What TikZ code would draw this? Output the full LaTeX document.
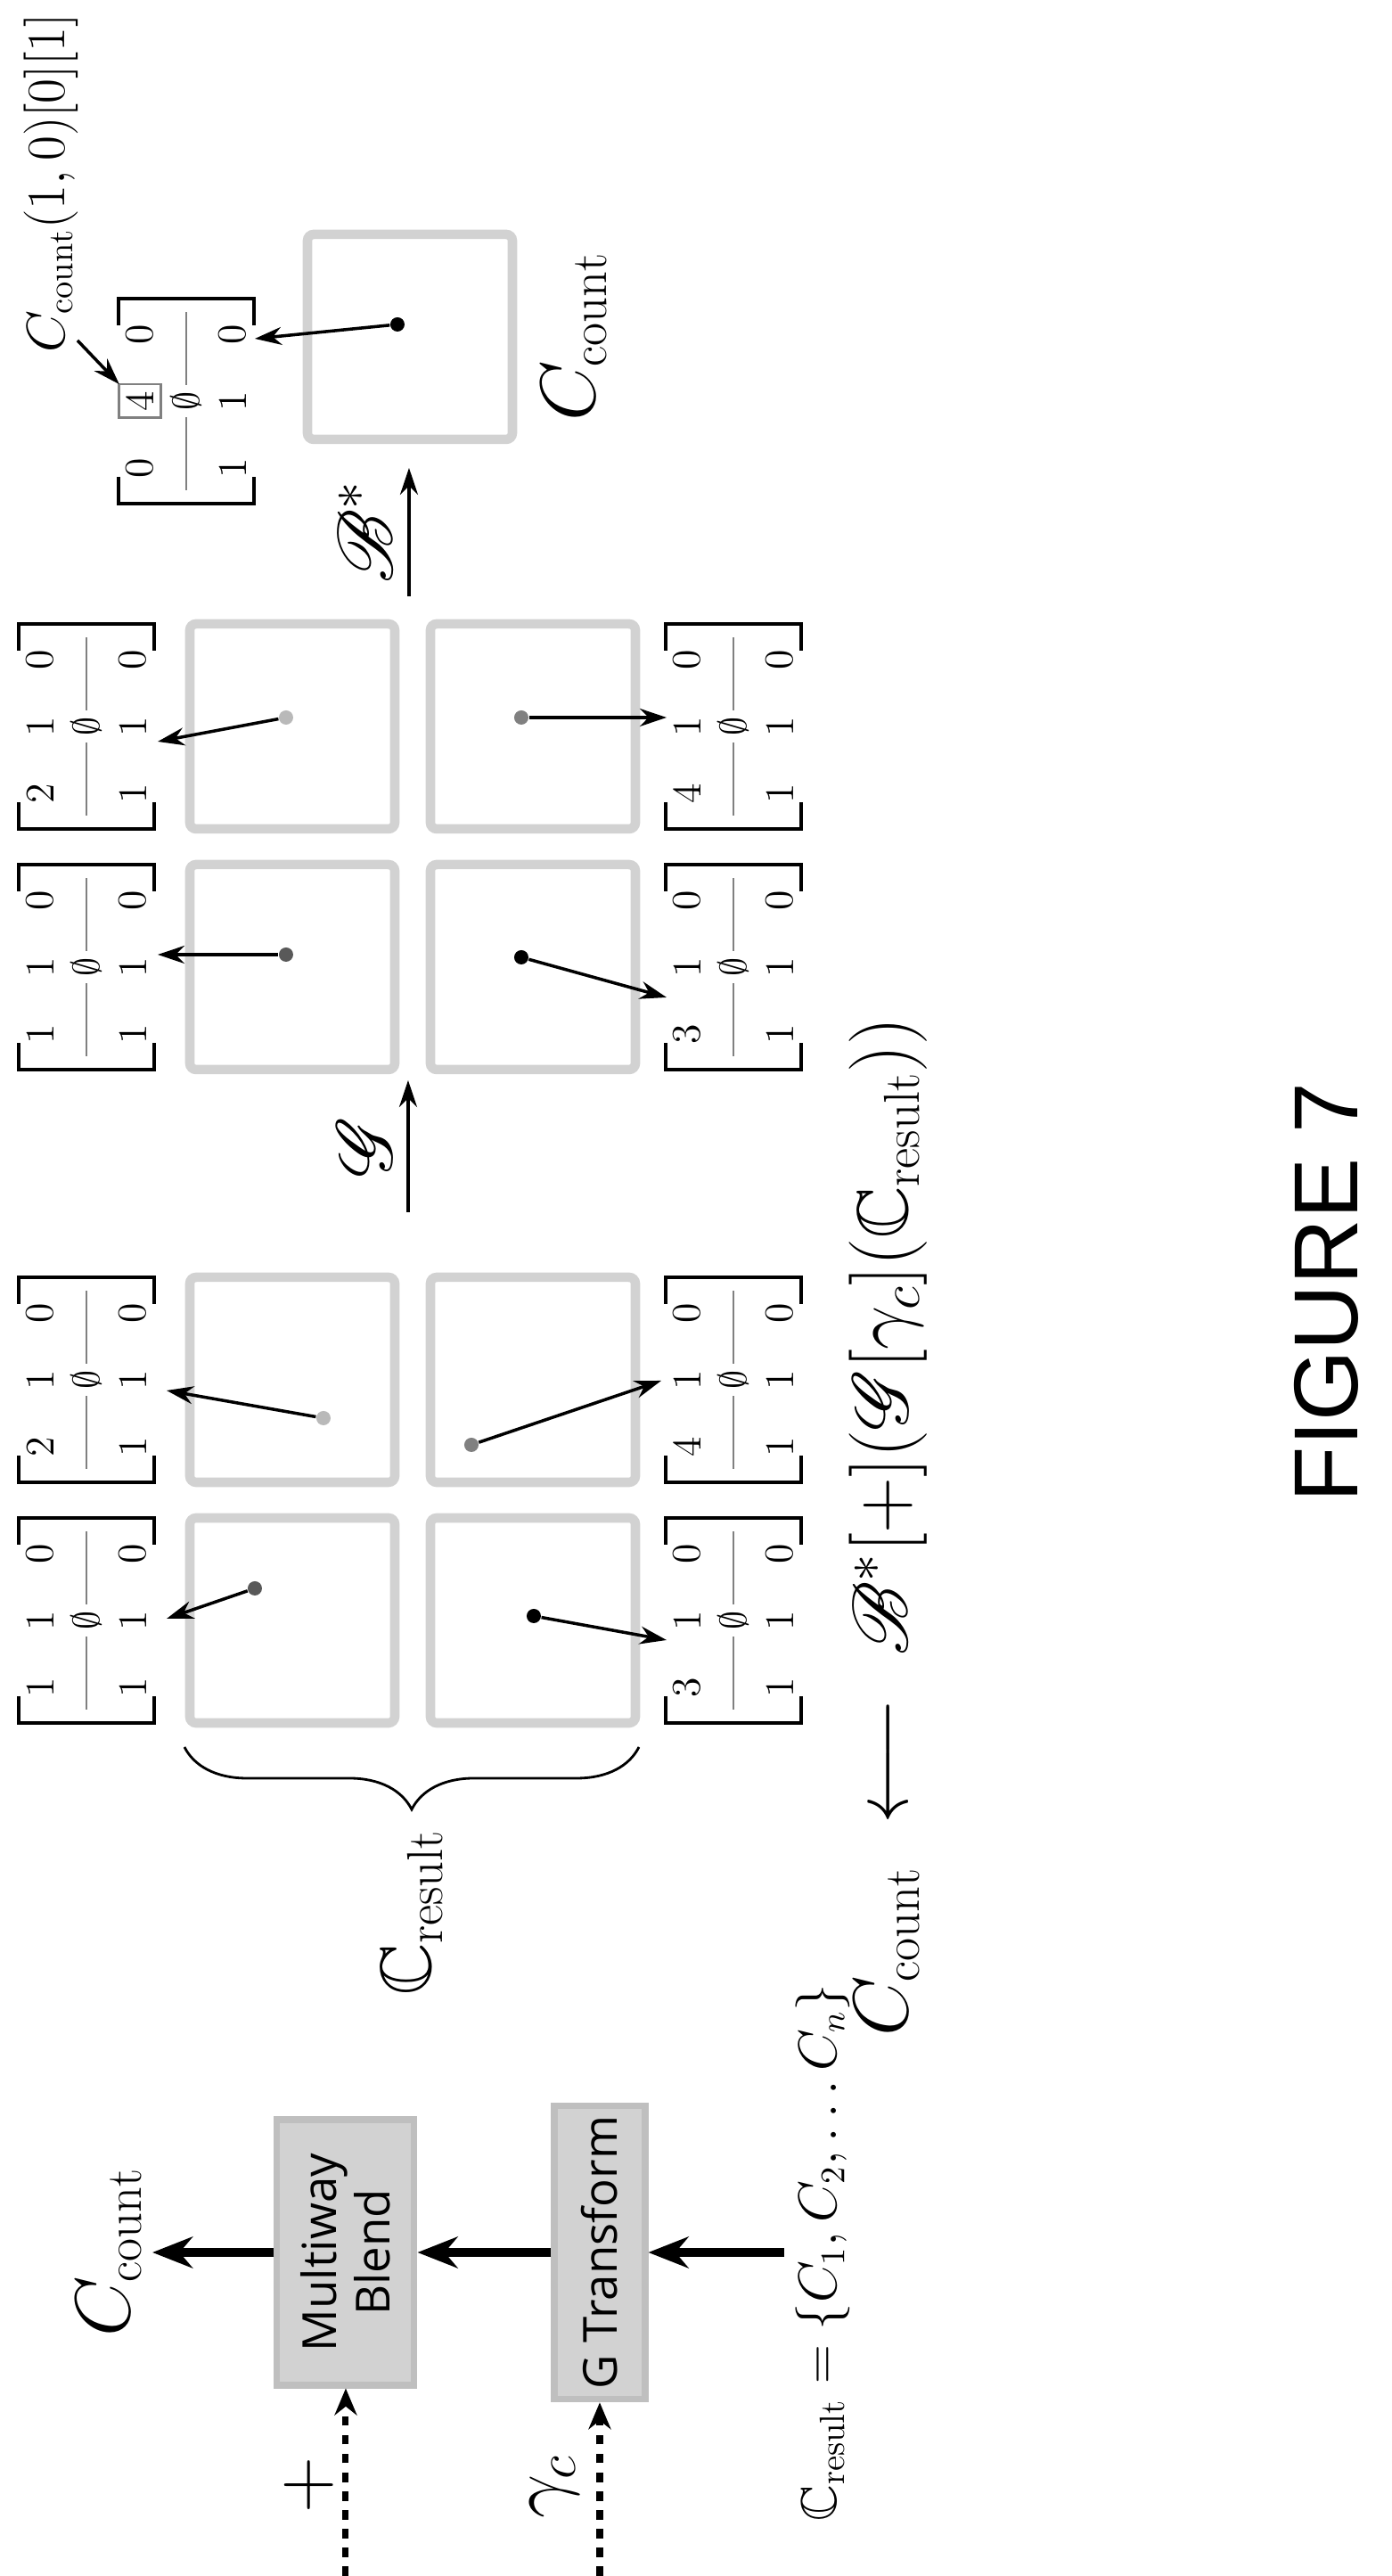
\documentclass[tikz,border=0pt]{standalone}
\usepackage{amsmath}
\usepackage{amssymb}
\usepackage{mathrsfs}
\usepackage{fontspec}
\newfontfamily\boxfont{Open Sans}
\newfontfamily\figfont{Liberation Sans}
\usetikzlibrary{positioning,arrows.meta,decorations.pathreplacing}

% one matrix with its brackets and the empty-set middle row
\newcommand{\cmat}[8]{%
  \begin{scope}[shift={#2}]
    \node[ent] (#1a) at (-0.75,0.52) {#3};
    \node[ent] (#1b) at (0,0.52) {#4};
    \node[ent] (#1c) at (0.75,0.52) {#5};
    \node[ent] (#1m) at (0,0) {$\emptyset$};
    \node[ent] (#1d) at (-0.75,-0.52) {#6};
    \node[ent] (#1e) at (0,-0.52) {#7};
    \node[ent] (#1f) at (0.75,-0.52) {#8};
    \draw[midline] (-1,0) -- (#1m);
    \draw[midline] (#1m) -- (1,0);
    \draw[brk] (-0.85,0.76) -- (-1.15,0.76) -- (-1.15,-0.76) -- (-0.85,-0.76);
    \draw[brk] (0.85,0.76) -- (1.15,0.76) -- (1.15,-0.76) -- (0.85,-0.76);
  \end{scope}}

\begin{document}
\begin{tikzpicture}[
    tile/.style={draw=gray!35, line width=3pt, fill=white, minimum size=2.3cm, rounded corners=2pt},
    block/.style={fill=gray!35, draw=gray!50, line width=2pt, minimum width=2.98cm, font=\boxfont\fontsize{15}{17}\selectfont, align=center},
    ent/.style={inner sep=2pt, font=\fontsize{13}{15}\selectfont},
    midline/.style={gray, line width=0.6pt},
    brk/.style={line width=1.2pt},
    dot/.style={circle, inner sep=0pt, minimum size=0.16cm},
    big/.style={font=\fontsize{23}{26}\selectfont},
    mid/.style={font=\fontsize{16}{19}\selectfont},
    tarr/.style={-{Stealth[length=0.3cm,width=0.2cm]}, line width=1pt},
    farr/.style={-{Stealth[length=0.45cm,width=0.35cm]}, line width=2.6pt},
    darr/.style={-{Stealth[length=0.3cm,width=0.25cm]}, dashed, line width=2pt}]
  \begin{scope}[rotate=90, transform shape]
  \useasboundingbox (0,0) rectangle (28.9,15.62);

  % block diagram
  \node[block, minimum height=1.54cm] (blend) at (3.63,11.74) {Multiway\\Blend};
  \node[block, minimum height=1.02cm] (gtrans) at (3.63,8.89) {G Transform};
  \node[mid] (cset) at (3.63,6.39) {$\mathbb{C}_{\mathrm{result}} = \{C_1, C_2, \ldots C_n\}$};
  \node[big] (ccnt) at (3.63,14.4) {$C_{\mathrm{count}}$};
  \coordinate (pin) at (0,11.74);
  \coordinate (gin) at (0,8.89);
  \draw[farr] (cset) -- (gtrans);
  \draw[farr] (gtrans) -- (blend);
  \draw[farr] (blend) -- (ccnt);
  \draw[darr] (pin) -- (blend);
  \draw[darr] (gin) -- (gtrans);
  \node[big] (plus) at (1.02,12.15) {$+$};
  \node[big] (gam) at (1.0,9.4) {$\gamma_c$};

  % first group of tiles
  \node[tile] (t1) at (10.72,12.34) {};
  \node[tile] (t2) at (13.42,12.34) {};
  \node[tile] (t3) at (10.72,9.64) {};
  \node[tile] (t4) at (13.42,9.64) {};
  \cmat{ma}{(10.72,14.65)}{1}{1}{0}{1}{1}{0}
  \cmat{mb}{(13.42,14.65)}{2}{1}{0}{1}{1}{0}
  \cmat{mc}{(10.72,7.39)}{3}{1}{0}{1}{1}{0}
  \cmat{md}{(13.42,7.39)}{4}{1}{0}{1}{1}{0}
  \node[dot, fill=gray!70!black] (d1) at (11.08,12.76) {};
  \node[dot, fill=gray!55] (d2) at (12.99,11.99) {};
  \node[dot, fill=black] (d3) at (10.77,9.63) {};
  \node[dot, fill=gray] (d4) at (12.69,10.33) {};
  \coordinate (e1) at (10.74,13.75);
  \coordinate (e2) at (13.3,13.75);
  \coordinate (e3) at (10.5,8.14);
  \coordinate (e4) at (13.41,8.2);
  \draw[tarr] (d1) -- (e1);
  \draw[tarr] (d2) -- (e2);
  \draw[tarr] (d3) -- (e3);
  \draw[tarr] (d4) -- (e4);
  \draw[decorate, decoration={brace, amplitude=0.7cm}, line width=0.8pt] (9.3,8.45) -- (9.3,13.55) coordinate[midway, xshift=-0.75cm] (btip);
  \node[big, left=0.05cm of btip] (cres) {$\mathbb{C}_{\mathrm{result}}$};

  % second group of tiles
  \coordinate (ga) at (15.3,11.04);
  \coordinate (gb) at (16.78,11.04);
  \draw[tarr] (ga) -- (gb) node[midway, above=0.05cm, big] (glab) {$\mathscr{G}$};
  \node[tile] (s1) at (18.05,12.34) {};
  \node[tile] (s2) at (20.75,12.34) {};
  \node[tile] (s3) at (18.05,9.64) {};
  \node[tile] (s4) at (20.75,9.64) {};
  \cmat{na}{(18.05,14.65)}{1}{1}{0}{1}{1}{0}
  \cmat{nb}{(20.75,14.65)}{2}{1}{0}{1}{1}{0}
  \cmat{nc}{(18.05,7.39)}{3}{1}{0}{1}{1}{0}
  \cmat{nd}{(20.75,7.39)}{4}{1}{0}{1}{1}{0}
  \node[dot, fill=gray!70!black] (f1) at (18.19,12.41) {};
  \node[dot, fill=gray!55] (f2) at (20.85,12.41) {};
  \node[dot, fill=black] (f3) at (18.16,9.77) {};
  \node[dot, fill=gray] (f4) at (20.85,9.77) {};
  \coordinate (h1) at (18.19,13.85);
  \coordinate (h2) at (20.58,13.85);
  \coordinate (h3) at (17.71,8.14);
  \coordinate (h4) at (20.85,8.14);
  \draw[tarr] (f1) -- (h1);
  \draw[tarr] (f2) -- (h2);
  \draw[tarr] (f3) -- (h3);
  \draw[tarr] (f4) -- (h4);

  % blended count
  \coordinate (ba) at (22.21,11.03);
  \coordinate (bb) at (23.65,11.03);
  \draw[tarr] (ba) -- (bb) node[midway, above=0.05cm, big] (blab) {$\mathscr{B}^*$};
  \node[tile] (cnt) at (25.12,11.02) {};
  \node[big, below=0.15cm of cnt] (cntlab) {$C_{\mathrm{count}}$};
  \cmat{mk}{(24.4,13.53)}{0}{4}{0}{1}{1}{0}
  \draw[gray, line width=0.8pt] (mkb.south west) rectangle (mkb.north east);
  \node[dot, fill=black] (kd) at (25.26,11.16) {};
  \coordinate (ke) at (25.1,12.76);
  \draw[tarr] (kd) -- (ke);
  \node[mid] (cidx) at (26.85,15.05) {$C_{\mathrm{count}}(1,0)[0][1]$};
  \coordinate (ia) at (25.08,14.75);
  \draw[tarr] (ia) -- (mkb.north east);

  % bottom formula and title
  \node[big] (form) at (11.77,5.65) {$C_{\mathrm{count}} \;\longleftarrow\; \mathscr{B}^*[+](\mathscr{G}[\gamma_c](\mathbb{C}_{\mathrm{result}}))$};
  \node[font=\figfont\fontsize{29}{32}\selectfont] (fig) at (14.4,0.74) {FIGURE 7};
  \end{scope}
\end{tikzpicture}
\end{document}
